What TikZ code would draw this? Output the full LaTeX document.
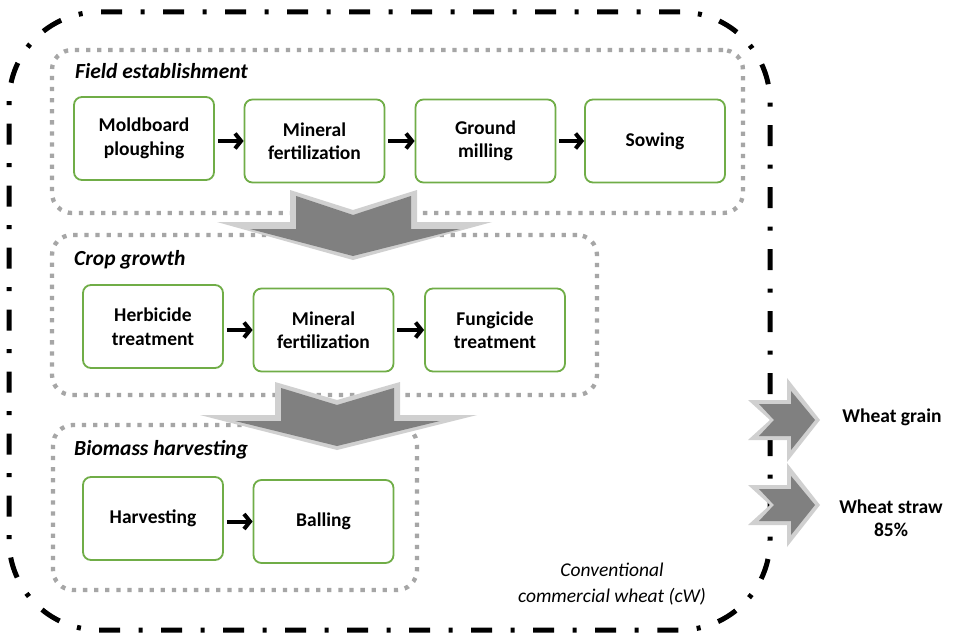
\documentclass[tikz,border=0pt]{standalone}
\usepackage{fontspec}
\setmainfont{Carlito}
\usetikzlibrary{arrows.meta}
\definecolor{boxgreen}{HTML}{70AD47}
\definecolor{dotgray}{HTML}{A6A6A6}
\definecolor{arrowfill}{HTML}{808080}
\definecolor{arrowedge}{HTML}{D0D0D0}
\tikzset{
  procbox/.style={draw=boxgreen, line width=1.8pt, rounded corners=8pt, fill=white,
    minimum width=140pt, minimum height=83pt, align=center, inner sep=2pt,
    font=\fontsize{19.5}{23.5}\selectfont\bfseries},
  groupbox/.style={draw=dotgray, line width=4.3pt, rounded corners=20pt,
    dash pattern=on 4.3pt off 6.8pt, inner sep=0pt},
  outerbox/.style={draw=black, line width=5pt, rounded corners=90pt,
    dash pattern=on 21pt off 18.5pt on 4pt off 18.5pt, inner sep=0pt},
  flowarrow/.style={draw=black, line width=4pt, shorten <=3pt,
    -{Straight Barb[length=6pt,width=15pt]}},
  grouptitle/.style={anchor=base west, inner sep=0pt,
    font=\fontsize{21.5}{24}\selectfont\bfseries\itshape},
  outlabel/.style={align=center, inner sep=0pt,
    font=\fontsize{19.5}{23.5}\selectfont\bfseries},
  bigedge/.style={fill=arrowedge},
  bigfill/.style={fill=arrowfill}
}
\begin{document}
\begin{tikzpicture}[x=1pt,y=-1pt]
\useasboundingbox (0,0) rectangle (954,634);
\fill[white] (0,0) rectangle (954,634);

% outer boundary
\node[outerbox, minimum width=761pt, minimum height=618pt] (outer) at (389.5,321) {};

% group boxes
\node[groupbox, minimum width=691pt, minimum height=163pt] (field) at (397.5,131.5) {};
\node[groupbox, minimum width=545pt, minimum height=160pt] (crop) at (324.5,315) {};
\node[groupbox, minimum width=364pt, minimum height=165pt] (bio) at (235,507.5) {};

% group titles
\node[grouptitle] (tfield) at (75,78) {Field establishment};
\node[grouptitle] (tcrop) at (74,265) {Crop growth};
\node[grouptitle] (tbio) at (74,455) {Biomass harvesting};

% big down arrows
\fill[bigedge] (290,190) -- (353,210) -- (417,190) -- (417,222) -- (492,222) -- (353,260) -- (217,222) -- (290,222) -- cycle;
\fill[bigfill] (296,196) -- (353,215) -- (411,196) -- (411,229) -- (460,229) -- (353,256) -- (250,229) -- (296,229) -- cycle;
\fill[bigedge] (275,382) -- (337,400) -- (400,382) -- (400,415) -- (477,415) -- (337,450) -- (200,415) -- (275,415) -- cycle;
\fill[bigfill] (281,388) -- (337,405) -- (394,388) -- (394,421) -- (440,421) -- (337,446) -- (235,421) -- (281,421) -- cycle;

% process boxes
\node[procbox] (m1) at (144,138.5) {Moldboard\\ploughing};
\node[procbox] (m2) at (314.5,141) {Mineral\\fertilization};
\node[procbox] (m3) at (485.5,141) {Ground\\milling};
\node[procbox] (m4) at (655,141) {Sowing};
\node[procbox] (c1) at (153,326.5) {Herbicide\\treatment};
\node[procbox] (c2) at (323.5,330) {Mineral\\fertilization};
\node[procbox] (c3) at (495,330) {Fungicide\\treatment};
\node[procbox] (h1) at (153,518.5) {Harvesting};
\node[procbox] (h2) at (323.5,521.5) {Balling};

% flow arrows
\draw[flowarrow] (m1.east |- m2.west) -- (m2.west);
\draw[flowarrow] (m2.east) -- (m3.west);
\draw[flowarrow] (m3.east) -- (m4.west);
\draw[flowarrow] (c1.east |- c2.west) -- (c2.west);
\draw[flowarrow] (c2.east) -- (c3.west);
\draw[flowarrow] (h1.east |- h2.west) -- (h2.west);

% output arrows
\fill[bigedge] (748,400) -- (787,400) -- (787,378) -- (820,420) -- (787,462) -- (787,440) -- (748,440) -- (770,420) -- cycle;
\fill[bigfill] (759,404) -- (791,404) -- (791,391) -- (815,420) -- (791,450) -- (791,436) -- (759,436) -- (774,420) -- cycle;
\fill[bigedge] (748,485) -- (787,485) -- (787,463) -- (820,505) -- (787,547) -- (787,525) -- (748,525) -- (770,505) -- cycle;
\fill[bigfill] (759,489) -- (791,489) -- (791,476) -- (815,505) -- (791,535) -- (791,521) -- (759,521) -- (774,505) -- cycle;

% output labels
\node[outlabel] (grain) at (892,417) {Wheat grain};
\node[outlabel] (straw) at (891,518) {Wheat straw\\85\%};

% system label
\node[align=center, inner sep=0pt, font=\fontsize{19.5}{26}\selectfont\itshape] (sys) at (612,584.5) {Conventional\\commercial wheat (cW)};
\end{tikzpicture}
\end{document}
